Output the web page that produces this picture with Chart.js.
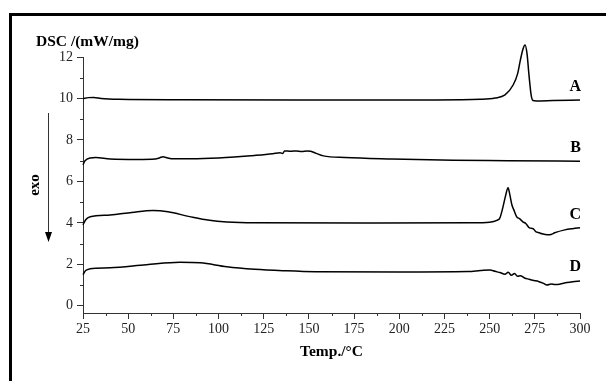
<!DOCTYPE html>
<html>
<head>
<meta charset="utf-8">
<script src="https://cdn.jsdelivr.net/npm/chart.js@4"></script>
<style>
  html, body { margin: 0; padding: 0; background: #fff; }
  #wrap { width: 606px; height: 381px; }
</style>
</head>
<body>
<div id="wrap"><canvas id="dscChart" width="606" height="381"></canvas></div>
<script>
// DSC curves (temperature in °C, signal in mW/mg)
const tempA = [25, 28, 31, 35, 45, 80, 150, 220, 245, 253, 258.5, 263, 265.5, 267, 268.5, 269.6, 270.7, 271.8, 273, 274, 276, 285, 300];
const dscA  = [10.0, 10.04, 10.05, 10.0, 9.96, 9.94, 9.93, 9.93, 9.96, 10.02, 10.17, 10.65, 11.2, 11.85, 12.4, 12.58, 12.15, 11.1, 10.15, 9.9, 9.88, 9.9, 9.93];

const tempB = [25, 26, 29, 32, 40, 55, 65, 67.5, 69.3, 71, 74, 85, 100, 120, 130, 134, 135.5, 136.5, 140, 143, 146, 149, 151, 154, 158, 170, 196, 230, 260, 300];
const dscB  = [6.8, 6.98, 7.13, 7.15, 7.08, 7.06, 7.08, 7.14, 7.19, 7.15, 7.09, 7.09, 7.13, 7.25, 7.33, 7.38, 7.34, 7.47, 7.45, 7.47, 7.44, 7.47, 7.45, 7.35, 7.23, 7.15, 7.08, 7.02, 7.0, 6.97];

const tempC = [25, 26.5, 29, 40, 52, 63.7, 72, 84, 95, 104.6, 120, 180, 240, 250, 254, 255.7, 257.4, 258.8, 260.2, 261.2, 262.3, 263.5, 265, 266.5, 268.4, 270, 272, 274, 275.5, 277.5, 279, 282, 284, 286, 291.6, 296, 300];
const dscC  = [3.9, 4.15, 4.29, 4.38, 4.5, 4.59, 4.53, 4.3, 4.12, 4.04, 4.0, 3.99, 4.0, 4.03, 4.12, 4.24, 4.77, 5.3, 5.69, 5.35, 4.87, 4.6, 4.29, 4.2, 4.05, 3.97, 3.76, 3.72, 3.58, 3.52, 3.47, 3.42, 3.44, 3.52, 3.66, 3.72, 3.76];

const tempD = [25, 26.5, 28.9, 40, 60, 78.6, 90, 104.6, 120, 135.6, 153.8, 200, 238, 245, 250.2, 253, 255.7, 258.5, 260.3, 262, 263.8, 265.4, 267, 269.3, 271.8, 274.5, 277, 279.5, 281.7, 284, 286.3, 288.7, 292.8, 296, 300];
const dscD  = [1.5, 1.7, 1.78, 1.83, 1.98, 2.1, 2.07, 1.88, 1.76, 1.69, 1.64, 1.63, 1.65, 1.7, 1.73, 1.66, 1.6, 1.52, 1.62, 1.47, 1.56, 1.42, 1.45, 1.34, 1.28, 1.22, 1.17, 1.09, 1.0, 1.05, 1.02, 1.04, 1.12, 1.16, 1.19];

// tick labels and curve names
const xTicks = [25, 50, 75, 100, 125, 150, 175, 200, 225, 250, 275, 300];
const yTicks = [0, 2, 4, 6, 8, 10, 12];
const curveNames  = ['A', 'B', 'C', 'D'];
const curveLabelY = [10.55, 7.6, 4.4, 1.9];

const toPoints = (xs, ys) => xs.map((x, i) => ({ x: x, y: ys[i] }));

const serif = '"Liberation Serif", "Times New Roman", serif';

// frame, axis titles, exo arrow, minor ticks and curve letters
const decorPlugin = {
    id: 'decor',
    beforeDraw(chart) {
        const c = chart.ctx;
        c.save();
        c.fillStyle = '#fff';
        c.fillRect(0, 0, chart.width, chart.height);
        c.strokeStyle = '#000';
        c.lineWidth = 3;
        c.beginPath();
        c.moveTo(10.5, chart.height + 5);
        c.lineTo(10.5, 14.5);
        c.lineTo(chart.width + 5, 14.5);
        c.stroke();
        c.restore();
    },
    afterDraw(chart) {
        const c  = chart.ctx;
        const xs = chart.scales.x;
        const ys = chart.scales.y;
        const area = chart.chartArea;
        c.save();

        // minor ticks
        c.strokeStyle = '#333';
        c.lineWidth = 1;
        c.beginPath();
        for (let i = 0; i < xTicks.length - 1; i++) {
            const px = Math.round(xs.getPixelForValue((xTicks[i] + xTicks[i + 1]) / 2)) + 0.5;
            c.moveTo(px, area.bottom);
            c.lineTo(px, area.bottom + 3);
        }
        for (let i = 0; i < yTicks.length - 1; i++) {
            const py = Math.round(ys.getPixelForValue((yTicks[i] + yTicks[i + 1]) / 2)) + 0.5;
            c.moveTo(area.left, py);
            c.lineTo(area.left - 3, py);
        }
        c.stroke();

        // axis titles
        c.fillStyle = '#000';
        c.font = 'bold 15.5px ' + serif;
        c.textBaseline = 'middle';
        c.textAlign = 'left';
        c.fillText('DSC /(mW/mg)', 36, 42);
        c.textAlign = 'center';
        c.fillText('Temp./°C', (area.left + area.right) / 2, 352);

        // exo arrow
        c.save();
        c.translate(35, 185);
        c.rotate(-Math.PI / 2);
        c.font = 'bold 15px ' + serif;
        c.fillText('exo', 0, 0);
        c.restore();
        c.lineWidth = 1;
        c.beginPath();
        c.moveTo(48.5, 113);
        c.lineTo(48.5, 236);
        c.stroke();
        c.beginPath();
        c.moveTo(48.5, 242);
        c.lineTo(45, 232);
        c.lineTo(52, 232);
        c.closePath();
        c.fill();

        // curve letters
        c.font = 'bold 16px ' + serif;
        c.textAlign = 'right';
        curveNames.forEach((name, i) => {
            c.fillText(name, area.right + 1, ys.getPixelForValue(curveLabelY[i]));
        });
        c.restore();
    }
};

const curveStyle = {
    borderColor: '#000',
    borderWidth: 1.5,
    pointRadius: 0,
    fill: false,
    clip: false,
    cubicInterpolationMode: 'monotone'
};

new Chart(document.getElementById('dscChart'), {
    type: 'line',
    data: {
        datasets: [
            Object.assign({ label: 'A', data: toPoints(tempA, dscA) }, curveStyle),
            Object.assign({ label: 'B', data: toPoints(tempB, dscB) }, curveStyle),
            Object.assign({ label: 'C', data: toPoints(tempC, dscC) }, curveStyle),
            Object.assign({ label: 'D', data: toPoints(tempD, dscD) }, curveStyle)
        ]
    },
    options: {
        responsive: false,
        animation: false,
        layout: { padding: { left: 0, top: 57, right: 26, bottom: 0 } },
        plugins: {
            legend: { display: false },
            tooltip: { enabled: false }
        },
        scales: {
            x: {
                type: 'linear',
                min: 25,
                max: 300,
                afterBuildTicks: (scale) => { scale.ticks = xTicks.map(v => ({ value: v })); },
                afterFit: (scale) => { scale.height = 68; },
                border: { color: '#333', width: 1 },
                grid: { drawOnChartArea: false, tickLength: 6, tickColor: '#333' },
                ticks: {
                    color: '#222',
                    padding: 2,
                    maxRotation: 0,
                    autoSkip: false,
                    font: { family: serif, size: 14 }
                }
            },
            y: {
                min: -0.35,
                max: 12,
                afterBuildTicks: (scale) => { scale.ticks = yTicks.map(v => ({ value: v })); },
                afterFit: (scale) => { scale.width = 83; },
                border: { color: '#333', width: 1 },
                grid: { drawOnChartArea: false, tickLength: 6, tickColor: '#333' },
                ticks: {
                    color: '#222',
                    padding: 4,
                    autoSkip: false,
                    font: { family: serif, size: 14 }
                }
            }
        }
    },
    plugins: [decorPlugin]
});
</script>
</body>
</html>
